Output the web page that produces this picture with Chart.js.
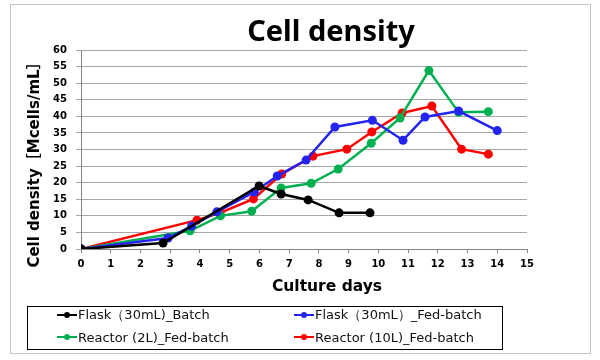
<!DOCTYPE html>
<html>
<head>
<meta charset="utf-8">
<script src="https://cdn.jsdelivr.net/npm/chart.js@4.4.1/dist/chart.umd.min.js"></script>
<style>
  html, body { margin: 0; padding: 0; background: #fff; }
  #wrap { position: relative; width: 600px; height: 360px; }
  #frame { position: absolute; left: 10px; top: 4px; width: 581px; height: 350px; border: 1px solid #c4c4c4; box-sizing: border-box; }
  #legend {
    position: absolute; left: 27px; top: 306px; width: 476px; height: 44px;
    border: 1px solid #000; box-sizing: border-box;
    font-family: "DejaVu Sans", sans-serif; font-size: 13px; color: #111;
  }
  .item { position: absolute; display: flex; align-items: center; white-space: nowrap; }
  .mark { position: relative; width: 20px; height: 10px; margin-right: 1px; }
  .mark .ln { position: absolute; left: 0; right: 0; top: 4px; height: 2px; }
  .mark .dot { position: absolute; left: 7px; top: 2px; width: 6px; height: 6px; border-radius: 50%; }
</style>
</head>
<body>
<div id="wrap">
  <div id="frame"></div>
  <canvas id="cellChart" width="600" height="360"></canvas>
  <div id="legend"></div>
</div>
<script>
const chartTitle = "Cell density";
const xTitle = "Culture days";
const yTitle = "Cell density［Mcells/mL］";

const seriesNames = [
  "Flask（30mL)_Batch",
  "Flask（30mL）_Fed-batch",
  "Reactor (2L)_Fed-batch",
  "Reactor (10L)_Fed-batch",
];
const seriesColors = ["#000000", "#2424f0", "#00b050", "#ff0000"];

// culture day / density for each series
const flaskBatchDays = [0, 2.76, 5.99, 6.73, 7.64, 8.68, 9.72];
const flaskBatchVals = [0, 1.8, 19.0, 16.6, 14.8, 10.9, 10.9];

const flaskFedDays = [0, 2.93, 3.72, 4.57, 5.83, 6.6, 7.57, 8.54, 9.8, 10.83, 11.57, 12.7, 14.0];
const flaskFedVals = [0, 3.3, 6.9, 11.2, 17.2, 22.0, 26.8, 36.8, 38.8, 32.8, 39.8, 41.6, 35.7];

const reactor2Days = [0, 3.67, 4.69, 5.74, 6.73, 7.74, 8.65, 9.76, 10.73, 11.7, 12.7, 13.7];
const reactor2Vals = [0, 5.5, 10.0, 11.4, 18.4, 19.8, 24.1, 31.9, 39.5, 53.8, 41.2, 41.4];

const reactor10Days = [0, 3.9, 4.68, 5.8, 6.75, 7.8, 8.94, 9.78, 10.8, 11.8, 12.8, 13.7];
const reactor10Vals = [0, 8.7, 10.9, 15.1, 22.6, 28.0, 30.1, 35.3, 41.0, 43.1, 30.1, 28.6];

const allDays = [flaskBatchDays, flaskFedDays, reactor2Days, reactor10Days];
const allVals = [flaskBatchVals, flaskFedVals, reactor2Vals, reactor10Vals];

const datasets = seriesNames.map((name, i) => ({
  label: name,
  data: allDays[i].map((d, j) => ({ x: d, y: allVals[i][j] })),
  borderColor: seriesColors[i],
  backgroundColor: seriesColors[i],
  borderWidth: 2.5,
  pointRadius: 4.5,
  pointHoverRadius: 4.5,
  pointBorderWidth: 0,
  tension: 0,
}));

const textPlugin = {
  id: "texts",
  afterDraw(chart) {
    const c = chart.ctx;
    c.save();
    c.fillStyle = "#000";
    c.textAlign = "center";
    c.textBaseline = "middle";
    c.font = 'bold 29px "Noto Sans", "DejaVu Sans", sans-serif';
    c.fillText(chartTitle, 331, 33);
    c.font = 'bold 15.5px "DejaVu Sans", sans-serif';
    c.fillText(xTitle, 327, 287);
    c.translate(35, 161);
    c.rotate(-Math.PI / 2);
    c.font = 'bold 15px "DejaVu Sans", "Noto Sans CJK JP", sans-serif';
    c.fillText(yTitle, 0, 0);
    c.restore();
  },
};

const ctx = document.querySelector("#cellChart");
const tickFont = { family: "DejaVu Sans", size: 10, weight: "bold" };

new Chart(ctx, {
  type: "line",
  data: { datasets: datasets },
  options: {
    responsive: false,
    animation: false,
    layout: { padding: { left: 0, top: 50, right: 73, bottom: 0 } },
    plugins: { legend: { display: false }, title: { display: false }, tooltip: { enabled: false } },
    scales: {
      x: {
        type: "linear",
        min: 0,
        max: 15,
        ticks: { stepSize: 1, color: "#000", font: tickFont, padding: 5 },
        grid: { drawOnChartArea: false, tickLength: 4, color: "#868686" },
        border: { color: "#868686" },
        afterFit: (s) => { s.height = 111; },
      },
      y: {
        min: 0,
        max: 60,
        ticks: { stepSize: 5, color: "#000", font: tickFont, padding: 9 },
        grid: { tickLength: 5, color: "#a6a6a6" },
        border: { color: "#868686" },
        afterFit: (s) => { s.width = 81; },
      },
    },
  },
  plugins: [textPlugin],
});

// legend in two columns, like the original
const legend = document.querySelector("#legend");
const spots = [[29, 8], [266, 8], [29, 30], [266, 30]];
seriesNames.forEach((name, i) => {
  const item = document.createElement("div");
  item.className = "item";
  item.style.left = spots[i][0] + "px";
  item.style.top = (spots[i][1] - 8) + "px";
  item.style.height = "16px";
  item.innerHTML = '<span class="mark"><span class="ln" style="background:' + seriesColors[i] +
    '"></span><span class="dot" style="background:' + seriesColors[i] + '"></span></span>';
  const txt = document.createElement("span");
  txt.textContent = name;
  item.appendChild(txt);
  legend.appendChild(item);
});
</script>
</body>
</html>
